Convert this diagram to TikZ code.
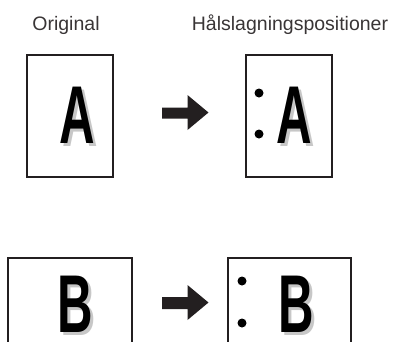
\documentclass[tikz,border=0pt]{standalone}
\usepackage{fontspec}
\setmainfont{Liberation Sans}
\definecolor{ink}{HTML}{231F20}
\definecolor{shade}{gray}{0.78}
\begin{document}
\begin{tikzpicture}[x=1pt,y=-1pt,
  page/.style={draw=ink,line width=1.1pt,fill=white},
  lbl/.style={font=\fontsize{19.5}{22}\selectfont,text=ink!90,inner sep=0},
  big/.style={font=\fontsize{82}{82}\selectfont\bfseries,inner sep=0,anchor=base},
  hole/.style={circle,fill=black,inner sep=0,minimum size=9pt},
  blockarrow/.style={fill=ink,draw=none}]
\useasboundingbox (0,0) rectangle (396,341);
% labels
\node[lbl] (orig) at (66,25) {Original};
\node[lbl] (hal) at (290,25) {Hålslagningspositioner};
% top pages
\draw[page] (27,55) rectangle (113,177);
\draw[page] (246,55) rectangle (332,177);
% bottom pages (cut by the bottom edge)
\draw[page] (8,258) rectangle (132,350);
\draw[page] (228,258) rectangle (351,350);
% letters with shadow
\node[big,text=shade] (ash) at (80.5,146) {\scalebox{0.6}[1]{A}};
\node[big] (a) at (77.5,143) {\scalebox{0.6}[1]{A}};
\node[big,text=shade] (a2sh) at (297.5,146) {\scalebox{0.6}[1]{A}};
\node[big] (a2) at (294.5,143) {\scalebox{0.6}[1]{A}};
\node[big,text=shade] (bsh) at (78.5,335) {\scalebox{0.6}[1]{B}};
\node[big] (b) at (75.5,332) {\scalebox{0.6}[1]{B}};
\node[big,text=shade] (b2sh) at (299,335) {\scalebox{0.6}[1]{B}};
\node[big] (b2) at (296,332) {\scalebox{0.6}[1]{B}};
% holes
\node[hole] (h1) at (259,93) {};
\node[hole] (h2) at (259,134) {};
\node[hole] (h3) at (242,281) {};
\node[hole] (h4) at (242,323) {};
% block arrows
\fill[blockarrow] (162,107.5) -- (187.5,107.5) -- (187.5,95) -- (208.5,112.5)
  -- (187.5,130) -- (187.5,118.5) -- (162,118.5) -- cycle;
\fill[blockarrow] (162,297) -- (187.5,297) -- (187.5,285) -- (208.5,302.5)
  -- (187.5,320) -- (187.5,309) -- (162,309) -- cycle;
\end{tikzpicture}
\end{document}
